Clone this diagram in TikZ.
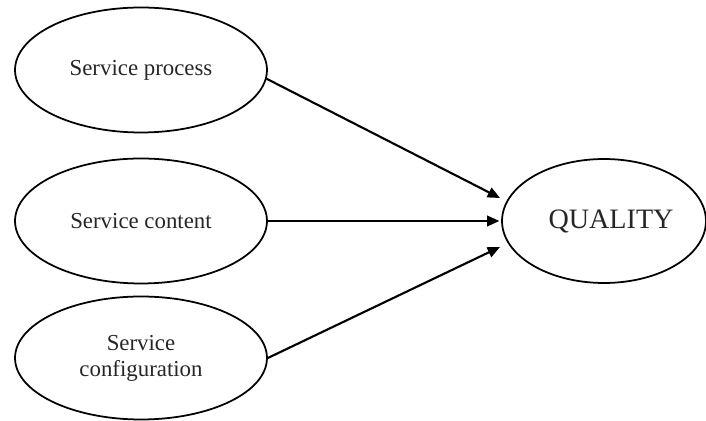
\documentclass[tikz,border=0pt]{standalone}
\usepackage{fontspec}
\setmainfont{Liberation Serif}
\usetikzlibrary{shapes.geometric}
\usetikzlibrary{arrows.meta}
\usetikzlibrary{calc}

\begin{document}
\begin{tikzpicture}[x=0.02cm, y=-0.02cm,
 oval/.style={ellipse, draw=black, line width=1pt, inner sep=1pt, minimum width=5.04cm, minimum height=2.5cm, align=center, text=black!85, font=\fontsize{13}{14.8}\selectfont},
 link/.style={black, line width=1.2pt, ->, >={Triangle[length=7pt,width=6pt]}}]
\useasboundingbox (0,0) rectangle (706,421);
\node[oval] (proc) at (141,70) {Service process};
\node[oval] (cont) at (141,221) {Service content};
\node[oval, minimum height=2.46cm] (conf) at (141,358) {Service\\configuration};
\node[oval, minimum width=4.08cm, minimum height=2.48cm, font=\fontsize{16}{18}\selectfont] (qual) at (604,221) {\hspace*{8pt}QUALITY};
\coordinate (tip1) at (500,198);
\coordinate (tip3) at (500,247);
\draw[link] (proc.-4) -- (tip1);
\draw[link, shorten >=1pt] (cont.east) -- (qual.west);
\draw[link] (conf.east) -- (tip3);
\end{tikzpicture}
\end{document}
